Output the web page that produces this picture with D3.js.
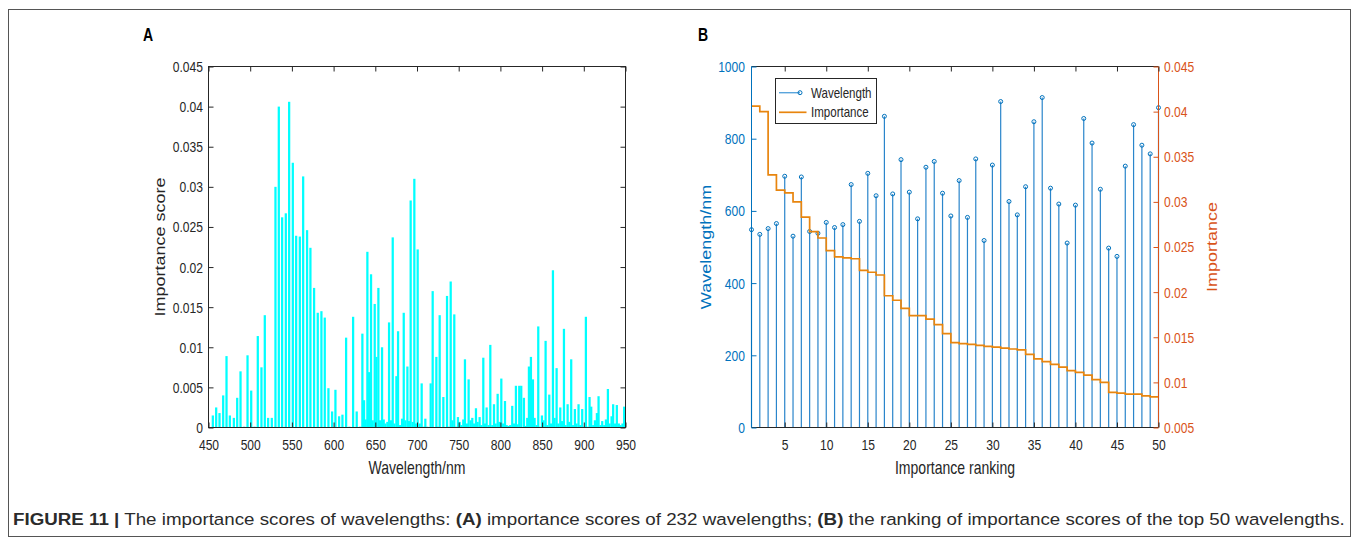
<!DOCTYPE html>
<html>
<head>
<meta charset="utf-8">
<script src="https://cdn.jsdelivr.net/npm/d3@7"></script>
<style>
  body { margin: 0; background: #ffffff; }
  svg { display: block; font-family: "Liberation Sans", Arial, Helvetica, sans-serif; }
  text { white-space: pre; }
</style>
</head>
<body>
<svg id="fig" width="1358" height="544"></svg>
<script>
// ---------------- Panel A: importance score per wavelength ----------------
const wavelengthNm = [
  455.2,459.2,463.2,467.6,471.6,475.6,480.4,484.4,488.4,492.8,496.8,501.2,505.2,509.1,513.5,517.5,521.5,525.9,530.3,534.3,
  538.3,542.7,546.7,551.1,555.1,559.5,563.5,568.2,572.2,576.6,581.0,585.4,589.4,593.8,598.2,602.2,606.6,610.6,615.0,619.0,
  623.4,627.7,631.7,
  634.5,636.5,638.5,640.5,642.5,644.9,646.9,649.3,651.3,653.7,655.7,658.1,660.1,662.1,664.5,666.5,668.9,670.9,672.9,675.3,
  677.3,679.7,682.1,684.1,686.1,688.5,690.5,692.4,694.8,696.8,698.8,700.8,
  703.2,705.6,708.0,710.0,712.4,714.4,716.4,718.8,720.8,723.2,725.2,727.2,729.6,731.6,733.6,736.0,738.0,740.4,742.4,744.7,
  746.7,749.1,751.1,753.1,755.5,757.5,759.9,761.9,764.3,766.3,768.3,770.7,772.7,775.1,777.1,779.5,781.5,783.5,785.9,787.9,
  790.3,792.3,794.3,796.7,798.7,801.1,803.1,805.5,807.5,809.8,811.8,814.2,816.2,818.6,820.6,822.6,825.0,
  828.2,830.6,832.2,834.2,836.6,839.0,841.0,843.4,845.4,847.4,849.8,851.8,854.2,856.2,858.6,860.6,863.0,865.0,867.4,869.4,
  871.8,873.8,876.2,878.2,880.6,882.6,884.9,886.9,889.3,891.3,893.7,895.7,898.1,900.1,902.5,904.5,906.9,908.9,911.3,913.3,
  915.7,917.7,920.1,922.1,924.5,926.5,928.9,930.9,933.3,935.2,937.6,939.6,942.0,944.0,946.4,948.4
];
const importanceScore = [
  0.0015,0.0025,0.0018,0.0040,0.0089,0.0015,0.0012,0.0037,0.0070,0.0001,0.0090,0.0046,0.0001,0.0114,0.0075,0.0140,0.0012,0.0012,0.0300,0.0400,
  0.0262,0.0267,0.0406,0.0330,0.0239,0.0238,0.0313,0.0246,0.0224,0.0174,0.0143,0.0145,0.0137,0.0049,0.0020,0.0047,0.0014,0.0016,0.0112,0.0001,
  0.0138,0.0020,0.0001,
  0.0117,0.0034,0.0010,0.0219,0.0069,0.0191,0.0009,0.0154,0.0088,0.0174,0.0009,0.0100,0.0010,0.0005,0.0007,0.0131,0.0009,0.0237,0.0005,0.0064,
  0.0120,0.0003,0.0011,0.0143,0.0009,0.0076,0.0008,0.0283,0.0007,0.0310,0.0005,0.0222,
  0.0005,0.0055,0.0001,0.0011,0.0001,0.0000,0.0055,0.0170,0.0000,0.0088,0.0001,0.0140,0.0000,0.0038,0.0000,0.0164,0.0001,0.0182,0.0009,0.0141,
  0.0001,0.0013,0.0007,0.0003,0.0010,0.0085,0.0005,0.0060,0.0009,0.0012,0.0005,0.0024,0.0007,0.0013,0.0003,0.0087,0.0005,0.0025,0.0003,0.0103,
  0.0003,0.0029,0.0005,0.0042,0.0007,0.0061,0.0005,0.0033,0.0003,0.0002,0.0003,0.0027,0.0005,0.0052,0.0004,0.0052,0.0052,
  0.0037,0.0002,0.0012,0.0076,0.0088,0.0060,0.0012,0.0003,0.0126,0.0001,0.0015,0.0009,0.0108,0.0003,0.0041,0.0005,0.0196,0.0012,0.0074,0.0005,
  0.0025,0.0008,0.0123,0.0003,0.0029,0.0007,0.0085,0.0003,0.0023,0.0005,0.0029,0.0003,0.0023,0.0001,0.0138,0.0001,0.0038,0.0026,0.0003,0.0009,
  0.0018,0.0039,0.0003,0.0008,0.0003,0.0010,0.0048,0.0005,0.0014,0.0029,0.0005,0.0028,0.0005,0.0003,0.0005,0.0026
];
const xTicksA = [450, 500, 550, 600, 650, 700, 750, 800, 850, 900, 950];
const yTicksA = [0, 0.005, 0.01, 0.015, 0.02, 0.025, 0.03, 0.035, 0.04, 0.045];

// ---------------- Panel B: top-50 ranking ----------------
const rankWavelength = [
  548,535,551,565,696,530,694,543,538,568,554,562,673,571,704,642,862,647,742,652,
  578,721,737,649,586,684,582,744,518,727,903,626,589,667,847,914,663,619,511,616,
  856,788,660,497,474,724,839,782,758,886
];
const rankImportance = [
  0.0406,0.0400,0.0330,0.0313,0.0310,0.0300,0.0283,0.0267,0.0260,0.0246,0.0239,0.0238,0.0237,0.0224,0.0222,0.0219,0.0196,0.0191,0.0182,0.0174,
  0.0174,0.0170,0.0164,0.0154,0.0144,0.0143,0.0142,0.0141,0.0140,0.0139,0.0138,0.0137,0.0136,0.0131,0.0126,0.0123,0.0120,0.0117,0.0113,0.0111,
  0.0108,0.0103,0.0100,0.0089,0.0088,0.0087,0.0087,0.0085,0.0084,0.0084
];
const xTicksB = [5, 10, 15, 20, 25, 30, 35, 40, 45, 50];
const yTicksBLeft = [0, 200, 400, 600, 800, 1000];
const yTicksBRight = [0.005, 0.01, 0.015, 0.02, 0.025, 0.03, 0.035, 0.04, 0.045];
const legendLabels = ["Wavelength", "Importance"];

const captionParts = [
  { t: "FIGURE 11 |", b: true },
  { t: " The importance scores of wavelengths: ", b: false },
  { t: "(A)", b: true },
  { t: " importance scores of 232 wavelengths; ", b: false },
  { t: "(B)", b: true },
  { t: " the ranking of importance scores of the top 50 wavelengths.", b: false }
];

// ---------------- styling ----------------
const INK = "#262626", BLUE = "#0072BD", RED = "#D95319", STAIR = "#E8850E", CYAN = "#00FFFF";
const SX = 0.78;            // horizontal squeeze applied to all lettering
const tickFont = 15.5, labelFont = 18, tickLen = 5;
const fmt = v => String(+v.toFixed(3));

const svg = d3.select("#fig");

// outer frame of the figure
svg.append("rect").attr("x", 8.5).attr("y", 9.5).attr("width", 1342).attr("height", 527)
  .attr("fill", "none").attr("stroke", "#555").attr("stroke-width", 1);

function squeeze(sel) {
  sel.each(function () {
    const t = d3.select(this);
    const x = +t.attr("x") || 0, y = +t.attr("y") || 0;
    t.attr("x", null).attr("y", null).attr("transform", `translate(${x},${y}) scale(${SX},1)`);
  });
}
function styleAxis(g, color, fontSize) {
  g.select(".domain").remove();
  g.selectAll(".tick line").attr("stroke", color).attr("stroke-width", 1);
  g.selectAll(".tick text").attr("fill", color).style("font-size", fontSize + "px");
  squeeze(g.selectAll(".tick text"));
}
function hLabel(x, y, txt, opts = {}) {
  return svg.append("text").attr("transform", `translate(${x},${y}) scale(${SX},1)`)
    .attr("text-anchor", opts.anchor || "middle").attr("fill", opts.color || INK)
    .style("font-size", (opts.size || labelFont) + "px").style("font-weight", opts.bold ? "bold" : null)
    .text(txt);
}
function vLabel(x, y, txt, color) {
  return svg.append("text").attr("transform", `translate(${x},${y}) scale(${SX},1) rotate(-90)`)
    .attr("text-anchor", "middle").attr("dy", "0.35em").attr("fill", color)
    .style("font-size", labelFont + "px").text(txt);
}

// ================= Panel A =================
const A = { left: 208.5, right: 625.5, top: 66.5, bottom: 427.5 };
const xA = d3.scaleLinear().domain([450, 950]).range([A.left, A.right]);
const yA = d3.scaleLinear().domain([0, 0.045]).range([A.bottom, A.top]);
const barW = xA(452.7) - xA(450);

const gA = svg.append("g");
gA.selectAll("rect.bar").data(d3.zip(wavelengthNm, importanceScore)).join("rect")
  .attr("class", "bar")
  .attr("x", d => xA(d[0]) - barW / 2).attr("y", d => yA(d[1]))
  .attr("width", barW).attr("height", d => yA(0) - yA(d[1]))
  .attr("fill", CYAN);

gA.append("rect").attr("x", A.left).attr("y", A.top).attr("width", A.right - A.left).attr("height", A.bottom - A.top)
  .attr("fill", "none").attr("stroke", INK).attr("stroke-width", 1);

gA.append("g").attr("transform", `translate(0,${A.bottom})`)
  .call(d3.axisBottom(xA).tickValues(xTicksA).tickFormat(fmt).tickSizeInner(-tickLen).tickSizeOuter(0).tickPadding(11.5))
  .call(g => styleAxis(g, INK, tickFont));
gA.append("g").attr("transform", `translate(0,${A.top})`)
  .call(d3.axisTop(xA).tickValues(xTicksA).tickFormat("").tickSizeInner(-tickLen).tickSizeOuter(0))
  .call(g => styleAxis(g, INK, tickFont));
gA.append("g").attr("transform", `translate(${A.left},0)`)
  .call(d3.axisLeft(yA).tickValues(yTicksA).tickFormat(fmt).tickSizeInner(-tickLen).tickSizeOuter(0).tickPadding(5.5))
  .call(g => styleAxis(g, INK, tickFont));
gA.append("g").attr("transform", `translate(${A.right},0)`)
  .call(d3.axisRight(yA).tickValues(yTicksA).tickFormat("").tickSizeInner(-tickLen).tickSizeOuter(0))
  .call(g => styleAxis(g, INK, tickFont));

hLabel((A.left + A.right) / 2, 474, "Wavelength/nm");
vLabel(160, (A.top + A.bottom) / 2, "Importance score", INK);
hLabel(148, 41, "A", { bold: true, color: "#000" });

// ================= Panel B =================
const B = { left: 751.5, right: 1158.5, top: 66.5, bottom: 427.5 };
const xB = d3.scaleLinear().domain([1, 50]).range([B.left, B.right]);
const yBl = d3.scaleLinear().domain([0, 1000]).range([B.bottom, B.top]);
const yBr = d3.scaleLinear().domain([0.005, 0.045]).range([B.bottom, B.top]);
const ranks = rankWavelength.map((w, i) => ({ r: i + 1, w }));

const gB = svg.append("g");
// stems
gB.selectAll("line.stem").data(ranks).join("line").attr("class", "stem")
  .attr("x1", d => xB(d.r)).attr("x2", d => xB(d.r))
  .attr("y1", yBl(0)).attr("y2", d => yBl(d.w))
  .attr("stroke", "#2a85cb").attr("stroke-width", 1.2);
gB.selectAll("circle.tip").data(ranks).join("circle").attr("class", "tip")
  .attr("cx", d => xB(d.r)).attr("cy", d => yBl(d.w)).attr("r", 2)
  .attr("fill", "none").attr("stroke", BLUE).attr("stroke-width", 1);

// importance staircase
const stair = d3.line().x((d, i) => xB(i + 1)).y(d => yBr(d)).curve(d3.curveStepAfter);
gB.append("path").attr("d", stair(rankImportance))
  .attr("fill", "none").attr("stroke", STAIR).attr("stroke-width", 1.7);

// frame
gB.append("line").attr("x1", B.left).attr("x2", B.right).attr("y1", B.top).attr("y2", B.top).attr("stroke", INK);
gB.append("line").attr("x1", B.left).attr("x2", B.right).attr("y1", B.bottom).attr("y2", B.bottom).attr("stroke", INK);
gB.append("line").attr("x1", B.left).attr("x2", B.left).attr("y1", B.top).attr("y2", B.bottom).attr("stroke", BLUE);
gB.append("line").attr("x1", B.right).attr("x2", B.right).attr("y1", B.top).attr("y2", B.bottom).attr("stroke", RED);

gB.append("g").attr("transform", `translate(0,${B.bottom})`)
  .call(d3.axisBottom(xB).tickValues(xTicksB).tickFormat(fmt).tickSizeInner(-tickLen).tickSizeOuter(0).tickPadding(11.5))
  .call(g => styleAxis(g, INK, tickFont));
gB.append("g").attr("transform", `translate(0,${B.top})`)
  .call(d3.axisTop(xB).tickValues(xTicksB).tickFormat("").tickSizeInner(-tickLen).tickSizeOuter(0))
  .call(g => styleAxis(g, INK, tickFont));
gB.append("g").attr("transform", `translate(${B.left},0)`)
  .call(d3.axisLeft(yBl).tickValues(yTicksBLeft).tickFormat(fmt).tickSizeInner(-tickLen).tickSizeOuter(0).tickPadding(6.5))
  .call(g => styleAxis(g, BLUE, tickFont));
gB.append("g").attr("transform", `translate(${B.right},0)`)
  .call(d3.axisRight(yBr).tickValues(yTicksBRight).tickFormat(fmt).tickSizeInner(-tickLen).tickSizeOuter(0).tickPadding(5.5))
  .call(g => styleAxis(g, RED, tickFont));

hLabel((B.left + B.right) / 2, 474, "Importance ranking");
vLabel(706, (B.top + B.bottom) / 2, "Wavelength/nm", BLUE);
vLabel(1212, (B.top + B.bottom) / 2, "Importance", RED);
hLabel(703, 41, "B", { bold: true, color: "#000" });

// legend
const leg = svg.append("g");
leg.append("rect").attr("x", 775.5).attr("y", 78.5).attr("width", 101).attr("height", 45)
  .attr("fill", "#fff").attr("stroke", INK).attr("stroke-width", 1);
leg.append("line").attr("x1", 779).attr("x2", 800).attr("y1", 92.7).attr("y2", 92.7)
  .attr("stroke", "#5aa5dc").attr("stroke-width", 1.4);
leg.append("circle").attr("cx", 800).attr("cy", 92.7).attr("r", 2)
  .attr("fill", "none").attr("stroke", BLUE).attr("stroke-width", 1);
leg.append("line").attr("x1", 779).attr("x2", 806.5).attr("y1", 112.3).attr("y2", 112.3)
  .attr("stroke", STAIR).attr("stroke-width", 1.7);
legendLabels.forEach((lab, i) => {
  leg.append("text").attr("transform", `translate(811,${[92.7, 112.3][i]}) scale(${SX},1)`)
    .attr("dy", "0.35em").attr("fill", INK).style("font-size", "14.8px").text(lab);
});

// caption, stretched to run across the figure width
const cap = svg.append("text").attr("fill", "#2b2b2b").style("font-size", "17px");
captionParts.forEach(p => cap.append("tspan").style("font-weight", p.b ? "bold" : "normal").text(p.t));
const natural = cap.node().getComputedTextLength();
cap.attr("transform", `translate(13,525) scale(${(1346 - 13) / natural},1)`);
</script>
</body>
</html>
